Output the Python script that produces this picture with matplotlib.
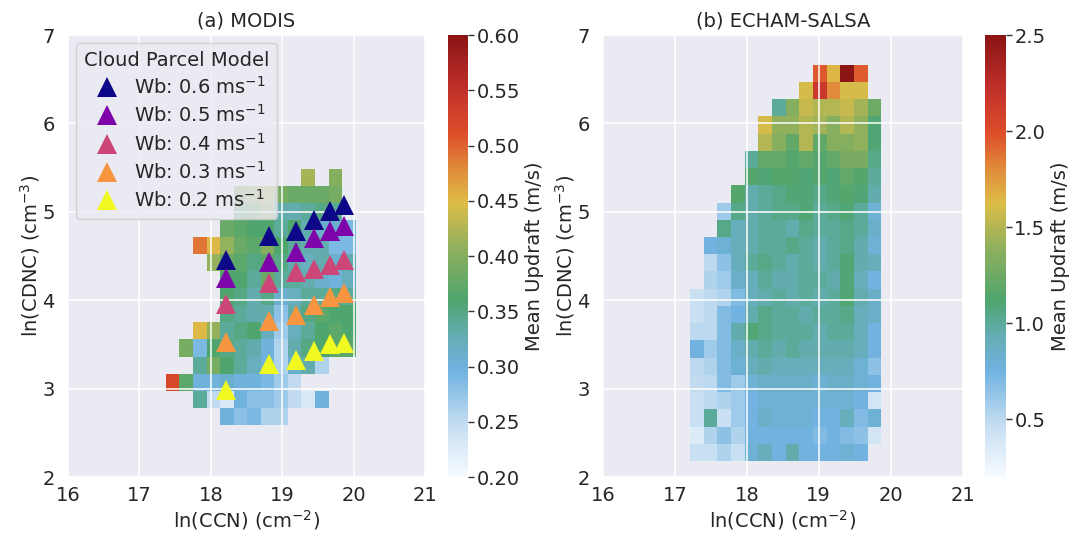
import numpy as np
import matplotlib
matplotlib.use("Agg")
import matplotlib.pyplot as plt
from matplotlib.colors import LinearSegmentedColormap

plt.style.use("seaborn-v0_8-darkgrid")
FS = 14
plt.rcParams["font.family"] = ["DejaVu Sans"]
plt.rcParams["font.size"] = FS

nan = np.nan

# ---- MODIS: mean updraft (m/s) binned by ln(CCN) x ln(CDNC), rows top -> bottom
modis_x0, modis_dx, modis_nx = 17.37, 0.19, 14
modis_y0, modis_dy, modis_ny = 2.59, 0.1933, 15
modis_w = [
    [nan, nan, nan, nan, nan, nan, nan, nan, nan, nan, .42, nan, .40, nan],
    [nan, nan, nan, nan, nan, .40, .41, .42, .39, .38, .38, .38, .39, nan],
    [nan, nan, nan, nan, nan, .37, .38, .41, .33, .33, .34, .35, .34, nan],
    [nan, nan, nan, nan, .38, .37, .36, .36, .34, .36, .33, .31, .31, .29],
    [nan, nan, .49, .45, .41, .38, .37, .40, .36, .34, .33, .33, .29, .29],
    [nan, nan, nan, .41, .38, .37, .35, .37, .35, .33, .32, .33, .31, .33],
    [nan, nan, nan, nan, .36, .36, .34, .38, .34, .34, .33, .31, .30, .32],
    [nan, nan, nan, nan, .36, .35, .33, .35, .31, .32, .34, .34, .35, .34],
    [nan, nan, nan, nan, .35, .34, .33, .33, .28, .33, .35, .37, .36, .36],
    [nan, nan, .45, .41, .34, .35, .36, .32, .27, .32, .34, .36, .37, .36],
    [nan, .39, .29, .36, .35, .34, .33, .30, .26, .33, .35, .36, .37, .37],
    [nan, nan, .34, .39, .36, .34, .32, .30, .26, .31, .33, .26, nan, nan],
    [.52, .37, .30, .30, .31, .30, .30, .29, .27, .25, nan, nan, nan, nan],
    [nan, nan, .34, .25, .23, .30, .28, .28, .27, .25, .23, .30, nan, nan],
    [nan, nan, nan, nan, .30, .28, .29, .26, .26, nan, nan, nan, nan, nan],
]

# ---- ECHAM-SALSA: mean updraft (m/s), rows top -> bottom
echam_x0, echam_dx, echam_nx = 17.21, 0.19, 14
echam_y0, echam_dy, echam_ny = 2.18, 0.195, 23
echam_w = [
    [nan, nan, nan, nan, nan, nan, nan, nan, nan, 1.95, 1.65, 2.5, 1.95, nan],
    [nan, nan, nan, nan, nan, nan, nan, nan, 1.6, 2.15, 1.8, 1.6, 1.6, nan],
    [nan, nan, nan, nan, nan, nan, 1.0, 1.35, 1.55, 1.5, 1.5, 1.55, 1.45, 1.25],
    [nan, nan, nan, nan, nan, 1.6, 1.4, 1.4, 1.5, 1.45, 1.35, 1.5, 1.4, 1.1],
    [nan, nan, nan, nan, nan, 1.5, 1.35, 1.2, 1.5, 1.2, 1.35, 1.35, 1.4, 1.1],
    [nan, nan, nan, nan, 1.0, 1.2, 1.2, 1.15, 1.2, 1.15, 1.2, 1.3, 1.3, 1.05],
    [nan, nan, nan, nan, 1.15, 1.1, 1.15, 1.15, 1.1, 1.15, 1.1, 1.2, 1.15, 1.0],
    [nan, nan, nan, 1.15, 0.95, 1.0, 1.05, 1.1, 1.1, 1.05, 1.1, 1.15, 1.1, 0.95],
    [nan, nan, 0.6, 1.05, 0.95, 1.0, 1.05, 1.05, 1.1, 1.0, 1.05, 1.1, 1.0, 0.8],
    [nan, nan, 1.05, 0.9, 0.95, 1.0, 1.0, 0.95, 1.05, 1.0, 1.0, 1.05, 1.0, 0.85],
    [nan, 0.75, 0.8, 0.9, 0.95, 1.0, 1.0, 1.05, 1.0, 0.95, 1.0, 1.05, 0.95, 0.8],
    [nan, 0.5, 0.65, 0.9, 1.0, 1.05, 1.0, 0.95, 1.0, 0.95, 1.0, 1.1, 0.95, 0.9],
    [nan, 0.55, 0.6, 0.85, 0.9, 1.0, 0.95, 0.95, 1.0, 1.0, 0.95, 1.1, 0.9, 0.75],
    [0.45, 0.5, 0.55, 0.7, 0.9, 0.95, 1.0, 0.95, 1.0, 0.95, 1.0, 1.1, 0.95, 0.85],
    [0.45, 0.5, 0.7, 0.75, 0.95, 1.05, 1.0, 1.0, 0.95, 1.0, 1.0, 1.05, 0.9, 0.85],
    [0.5, 0.5, 0.7, 0.95, 1.1, 1.05, 1.0, 1.0, 1.0, 0.95, 1.0, 1.0, 0.9, 0.75],
    [0.75, 0.6, 0.7, 0.85, 0.95, 1.0, 0.95, 1.0, 0.95, 0.95, 0.95, 0.95, 0.9, 0.75],
    [0.5, 0.55, 0.7, 0.8, 0.9, 0.95, 0.9, 0.9, 0.9, 0.9, 0.9, 0.9, 0.8, 0.65],
    [0.48, 0.5, 0.7, 0.6, 0.8, 0.85, 0.85, 0.85, 0.85, 0.8, 0.85, 0.85, 0.8, 0.75],
    [0.45, 0.5, 0.55, 0.6, 0.75, 0.8, 0.8, 0.8, 0.8, 0.8, 0.8, 0.8, 0.75, 0.4],
    [0.45, 1.0, 0.45, 0.6, 0.75, 0.85, 0.8, 0.8, 0.8, 0.75, 0.75, 0.9, 0.7, 0.8],
    [0.35, 0.55, 0.65, 0.55, 0.75, 0.75, 0.75, 0.75, 0.75, 0.7, 0.75, 0.7, 0.65, 0.4],
    [0.45, 0.45, 0.55, 0.45, 0.8, 0.9, 0.75, 0.95, 0.75, 0.75, 0.75, 0.8, 0.75, nan],
]

# ---- cloud parcel model runs
parcel_ccn = [18.21, 18.81, 19.19, 19.45, 19.67, 19.86]
parcel_wb = [0.6, 0.5, 0.4, 0.3, 0.2]
parcel_cdnc = {
    0.6: [4.45, 4.73, 4.78, 4.91, 5.01, 5.08],
    0.5: [4.25, 4.43, 4.55, 4.70, 4.78, 4.84],
    0.4: [3.96, 4.19, 4.32, 4.35, 4.40, 4.45],
    0.3: [3.53, 3.76, 3.83, 3.95, 4.04, 4.08],
    0.2: [2.99, 3.28, 3.32, 3.43, 3.50, 3.52],
}

cmap = LinearSegmentedColormap.from_list("updraft", [
    (0.00, "#f7fbff"),
    (0.12, "#c3dcf1"),
    (0.24, "#70b2e0"),
    (0.32, "#63adb2"),
    (0.40, "#4fa56e"),
    (0.52, "#90b05c"),
    (0.62, "#ddbd48"),
    (0.70, "#e08a3a"),
    (0.78, "#de4c2a"),
    (0.88, "#c0302a"),
    (1.00, "#8b1414"),
])


def edges(x0, dx, n):
    return x0 + dx * np.arange(n + 1)


fig = plt.figure(figsize=(10.83, 5.34), dpi=100)
ax1 = fig.add_axes([0.0628, 0.1067, 0.3296, 0.8277])
cax1 = fig.add_axes([0.4137, 0.1067, 0.0185, 0.8277])
ax2 = fig.add_axes([0.5568, 0.1067, 0.3320, 0.8277])
cax2 = fig.add_axes([0.9095, 0.1067, 0.0194, 0.8277])

# (a) MODIS
z1 = np.ma.masked_invalid(np.array(modis_w)[::-1])
m1 = ax1.pcolormesh(edges(modis_x0, modis_dx, modis_nx), edges(modis_y0, modis_dy, modis_ny),
                    z1, cmap=cmap, vmin=0.2, vmax=0.6, zorder=1)
pcols = plt.cm.plasma(np.linspace(0, 1, len(parcel_wb)))
for wb, c in zip(parcel_wb, pcols):
    ax1.plot(parcel_ccn, parcel_cdnc[wb], "^", ms=14, color=c, mec=c, mew=0,
             zorder=4, label=r"Wb: %.1f ms$^{-1}$" % wb)
leg = ax1.legend(title="Cloud Parcel Model", loc="upper left", fontsize=FS,
                 title_fontsize=FS, frameon=True, framealpha=0.8,
                 handletextpad=0.4, borderaxespad=0.4, labelspacing=0.33)
leg.get_frame().set_facecolor("#EAEAF2")
leg.get_frame().set_edgecolor("#cccccc")
leg.set_zorder(5)
ax1.set_title("(a) MODIS", fontsize=FS, pad=6)

cb1 = fig.colorbar(m1, cax=cax1, ticks=np.round(np.arange(0.2, 0.601, 0.05), 2))
cb1.ax.set_yticklabels(["%.2f" % t for t in np.arange(0.2, 0.601, 0.05)])
cb1.set_label("Mean Updraft (m/s)", fontsize=FS)

# (b) ECHAM-SALSA
z2 = np.ma.masked_invalid(np.array(echam_w)[::-1])
m2 = ax2.pcolormesh(edges(echam_x0, echam_dx, echam_nx), edges(echam_y0, echam_dy, echam_ny),
                    z2, cmap=cmap, vmin=0.2, vmax=2.5, zorder=1)
ax2.set_title("(b) ECHAM-SALSA", fontsize=FS, pad=6)
cb2 = fig.colorbar(m2, cax=cax2, ticks=[0.5, 1.0, 1.5, 2.0, 2.5])
cb2.set_label("Mean Updraft (m/s)", fontsize=FS)

for ax in (ax1, ax2):
    ax.set_xlim(16, 21)
    ax.set_ylim(2, 7)
    ax.set_xticks([16, 17, 18, 19, 20, 21])
    ax.set_yticks([2, 3, 4, 5, 6, 7])
    ax.grid(True, color="white", lw=1.1, zorder=2)
    ax.set_axisbelow(False)
    ax.tick_params(axis="x", labelsize=FS, length=0, pad=6.5)
    ax.tick_params(axis="y", labelsize=FS, length=0, pad=9.5)
    ax.set_xlabel(r"ln(CCN) (cm$^{-2}$)", fontsize=FS, labelpad=2.5)
    ax.set_ylabel(r"ln(CDNC) (cm$^{-3}$)", fontsize=FS, labelpad=0.5)

for cb in (cb1, cb2):
    cb.outline.set_visible(False)
    cb.ax.tick_params(labelsize=FS, length=4, width=1, color="#333333", pad=2)

fig.savefig("out.png", dpi=100)
